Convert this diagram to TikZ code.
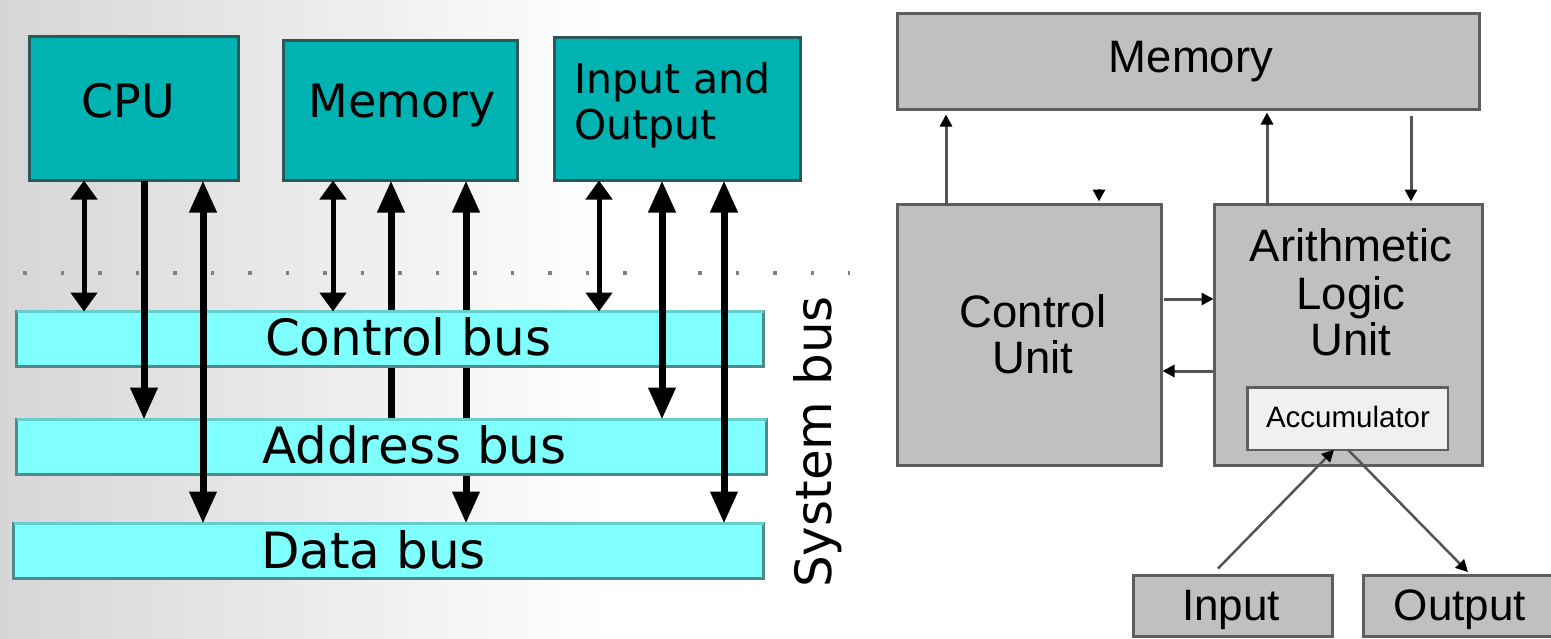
\documentclass[tikz,border=0pt]{standalone}
\usepackage{fontspec}
\usetikzlibrary{arrows.meta}
\newfontfamily\dvfont{DejaVu Sans}
\newfontfamily\lsfont{Liberation Sans}
\definecolor{tealf}{HTML}{00B3B3}
\definecolor{tealb}{HTML}{2E5858}
\definecolor{busf}{HTML}{80FFFF}
\definecolor{bustop}{HTML}{66CCCC}
\definecolor{busb}{HTML}{4F8A8A}
\definecolor{grayf}{HTML}{C0C0C0}
\definecolor{grayb}{HTML}{5E5E5E}
\definecolor{accf}{HTML}{F0F0F0}
\definecolor{rline}{HTML}{555555}
\definecolor{dotc}{HTML}{808080}
\definecolor{bgl}{HTML}{D6D6D6}
\pgfdeclarelayer{bglayer}
\pgfdeclarelayer{midlayer}
\pgfsetlayers{bglayer,midlayer,main}
\tikzset{
  BigT/.tip={Triangle[length=32pt,width=26pt]},
  SmT/.tip={Triangle[length=19pt,width=26pt]},
  RT/.tip={Triangle[length=12pt,width=12pt,color=black]},
}
\begin{document}
\begin{tikzpicture}[x=1pt,y=-1pt,
  box/.style={inner sep=0pt, outer sep=0pt, line width=3pt},
  tealbox/.style={box, fill=tealf, draw=tealb},
  busbox/.style={box, fill=busf, draw=busb},
  graybox/.style={box, fill=grayf, draw=grayb},
  accbox/.style={box, line width=2.5pt, fill=accf, draw=grayb},
  txt/.style={inner sep=0pt, outer sep=0pt},
  lfont/.style={txt, font=\dvfont\fontsize{46}{50}\selectfont},
  iofont/.style={txt, font=\dvfont\fontsize{41}{46}\selectfont},
  busfont/.style={txt, font=\dvfont\fontsize{50}{55}\selectfont},
  rfont/.style={txt, font=\lsfont\fontsize{45.5}{47}\selectfont},
  accfont/.style={txt, font=\lsfont\fontsize{29.5}{32}\selectfont},
  iobfont/.style={txt, font=\lsfont\fontsize{44}{47}\selectfont},
  thinarr/.style={line width=5pt, SmT-SmT},
  thickdn/.style={line width=7pt, -BigT},
  thickup/.style={line width=7pt, BigT-},
  thickboth/.style={line width=7pt, BigT-BigT},
  rarr/.style={draw=rline, line width=3pt, -RT},
  rdiag/.style={draw=rline, line width=2.5pt, -RT},
]
\clip (0,0) rectangle (1551,638);
\begin{pgfonlayer}{bglayer}
\fill[white] (0,0) rectangle (1551,638);
\shade[left color=bgl, right color=white] (0,0) rectangle (610,638);
% dotted separator
\draw[dotc, line width=3.5pt, dash pattern=on 3.5pt off 34pt] (23.25,273) -- (850,273);
\end{pgfonlayer}

% ---------- left diagram ----------
\node[tealbox, minimum width=209pt, minimum height=144pt] (cpu) at (134,108.5) {};
\node[tealbox, minimum width=234pt, minimum height=140pt] (mem) at (400.5,110.5) {};
\node[tealbox, minimum width=246pt, minimum height=143pt] (io) at (677.5,109) {};

\node[busbox, minimum width=747pt, minimum height=55pt] (ctl) at (390,339) {};
\node[busbox, minimum width=750pt, minimum height=55pt] (adr) at (391.5,447) {};
\node[busbox, minimum width=750pt, minimum height=55pt] (dat) at (388.5,551) {};
\foreach \b in {ctl,adr,dat}
  \draw[bustop, line width=3pt] (\b.north west) -- (\b.north east);

\node[lfont, anchor=base] (tcpu) at (128,117) {CPU};
\node[lfont, anchor=base] (tmem) at (402,117) {Memory};
\node[iofont, anchor=base west] (tio1) at (574,93) {Input and};
\node[iofont, anchor=base west] (tio2) at (574,139) {Output};

\node[busfont, anchor=base west] (tctl) at (265,355) {Control bus};
\node[busfont, anchor=base west] (tadr) at (262,463) {Address bus};
\node[busfont, anchor=base west] (tdat) at (261,568) {Data bus};
\node[busfont, anchor=base, rotate=90] (tsys) at (831,442) {System bus};

% CPU connectors
\draw[thinarr] ([xshift=-50pt]cpu.south) coordinate (c1) -- (c1 |- ctl.north);
\draw[thickdn] ([xshift=10pt]cpu.south) coordinate (c2) -- (c2 |- adr.north);
\draw[thickboth] ([xshift=69pt]cpu.south) coordinate (c3) -- (c3 |- dat.north);
% Memory connectors (run behind the buses)
\draw[thinarr] ([xshift=-67.5pt]mem.south) coordinate (m1) -- (m1 |- ctl.north);
\begin{pgfonlayer}{midlayer}
\draw[thickup] ([xshift=-9.5pt]mem.south) coordinate (m2) -- (m2 |- adr.north);
\draw[thickboth] ([xshift=65.5pt]mem.south) coordinate (m3) -- (m3 |- dat.north);
\end{pgfonlayer}
% I/O connectors
\draw[thinarr] ([xshift=-78.5pt]io.south) coordinate (i1) -- (i1 |- ctl.north);
\draw[thickboth] ([xshift=-15.5pt]io.south) coordinate (i2) -- (i2 |- adr.north);
\draw[thickboth] ([xshift=46.5pt]io.south) coordinate (i3) -- (i3 |- dat.north);

% ---------- right diagram ----------
\node[graybox, minimum width=582pt, minimum height=96pt] (rmem) at (1188.5,61.5) {};
\node[graybox, minimum width=264pt, minimum height=261pt] (cu) at (1029.5,335) {};
\node[graybox, minimum width=268pt, minimum height=261pt] (alu) at (1348.5,335) {};
\node[accbox, minimum width=200.5pt, minimum height=62.5pt] (acc) at (1347.5,418.5) {};
\node[graybox, minimum width=199pt, minimum height=61pt] (inp) at (1233,606) {};
\node[graybox, minimum width=205pt, minimum height=61pt] (out) at (1466,606) {};

\node[rfont, anchor=base] (trmem) at (1191,72) {Memory};
\node[rfont, anchor=base] (tcu1) at (1033,327) {Control};
\node[rfont, anchor=base] (tcu2) at (1033,373) {Unit};
\node[rfont, anchor=base] (talu1) at (1351,261) {Arithmetic};
\node[rfont, anchor=base] (talu2) at (1351,309) {Logic};
\node[rfont, anchor=base] (talu3) at (1351,355) {Unit};
\node[accfont, anchor=base] (tacc) at (1348,427) {Accumulator};
\node[iobfont, anchor=base] (tinp) at (1231,620) {Input};
\node[iobfont, anchor=base] (tout) at (1460,620) {Output};

\draw[rarr, shorten >=5pt] ([xshift=-83.5pt]cu.north) coordinate (r1) -- (r1 |- rmem.south);
\draw[rarr, shorten >=3pt] ([xshift=69.5pt,yshift=16pt]cu.north) -- ([xshift=69.5pt]cu.north);
\draw[rarr, shorten >=3pt] ([xshift=-81.5pt]alu.north) coordinate (r3) -- (r3 |- rmem.south);
\path ([xshift=62.5pt]alu.north) coordinate (r4);
\draw[rarr, shorten <=6pt, shorten >=3pt] (r4 |- rmem.south) -- (r4);
\draw[rarr, shorten <=2pt, shorten >=1pt] ([yshift=36pt]cu.east) coordinate (r5) -- (r5 -| alu.west);
\draw[rarr, shorten <=2pt, shorten >=1pt] ([yshift=-36pt]alu.west) coordinate (r6) -- (r6 -| cu.east);
\draw[rdiag] ([xshift=-15pt,yshift=7pt]inp.north) -- ([xshift=-13.5pt]acc.south);
\draw[rdiag] ([xshift=0.5pt]acc.south) -- ([xshift=2pt,yshift=3.5pt]out.north);
\end{tikzpicture}
\end{document}
